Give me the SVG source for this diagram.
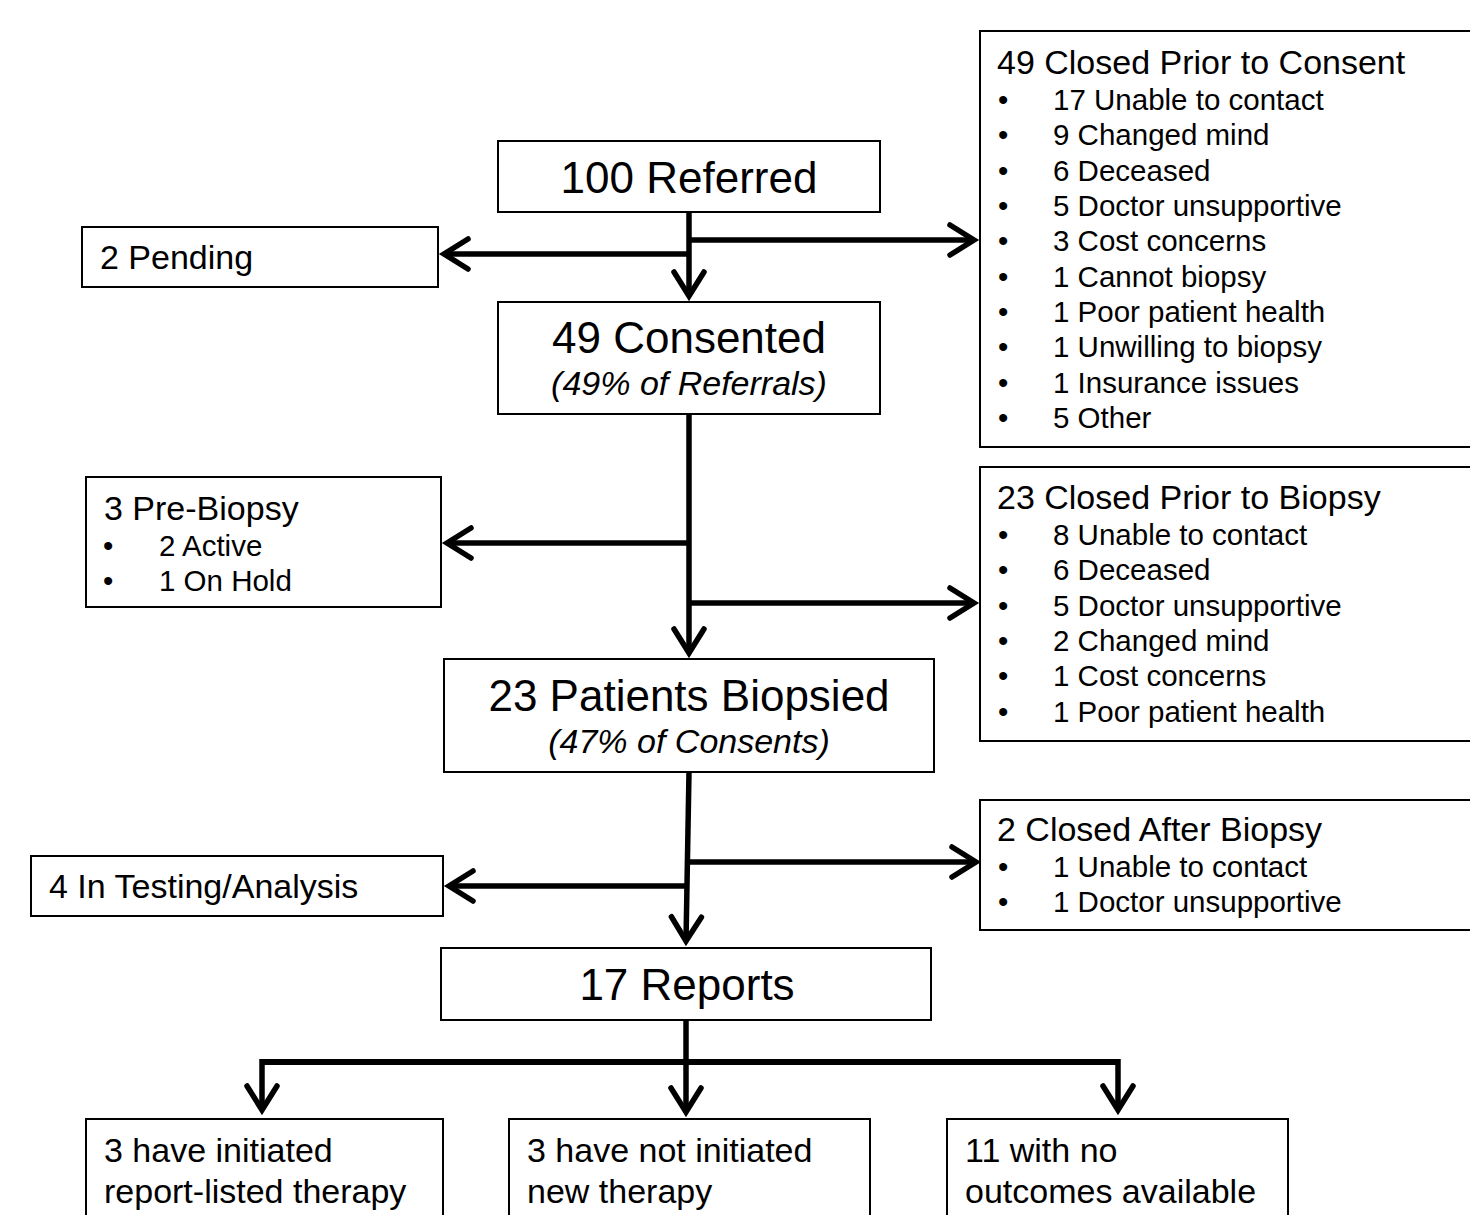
<svg xmlns="http://www.w3.org/2000/svg" width="1470" height="1215" viewBox="0 0 1470 1215">
<style>
.box{fill:#fff;stroke:#000;stroke-width:2}
text{font-family:"Liberation Sans",Arial,sans-serif;fill:#000}
.big{font-size:44px}
.mid{font-size:34px}
.it{font-size:34px;font-style:italic}
.sm{font-size:29.5px}
.c{text-anchor:middle}
.ln{fill:none;stroke:#000;stroke-width:5.5}
</style>
<defs>
<marker id="ah" markerUnits="userSpaceOnUse" markerWidth="40" markerHeight="40" viewBox="-30 -20 34 40" refX="0" refY="0" orient="auto">
<path d="M-24,-15 L0,0 L-24,15" fill="none" stroke="#000" stroke-width="5.5" stroke-linecap="round" stroke-linejoin="miter"/>
</marker>
</defs>
<g id="connectors">
<path class="ln" d="M689,212 V296" marker-end="url(#ah)"/>
<path class="ln" d="M689,254 H444" marker-end="url(#ah)"/>
<path class="ln" d="M689,240 H974" marker-end="url(#ah)"/>
<path class="ln" d="M689,414 V653" marker-end="url(#ah)"/>
<path class="ln" d="M689,543 H447" marker-end="url(#ah)"/>
<path class="ln" d="M689,603 H974" marker-end="url(#ah)"/>
<path class="ln" d="M689,772 L686,941" marker-end="url(#ah)"/>
<path class="ln" d="M687,886 H449" marker-end="url(#ah)"/>
<path class="ln" d="M688,862 H976" marker-end="url(#ah)"/>
<path class="ln" d="M686,1020 V1112" marker-end="url(#ah)"/>
<path class="ln" d="M262,1062 H1118" style="stroke-width:6"/>
<path class="ln" d="M262,1059 V1110" marker-end="url(#ah)"/>
<path class="ln" d="M1118,1059 V1110" marker-end="url(#ah)"/>
</g>
<g id="referred">
<rect class="box" x="498" y="141" width="382" height="71"/>
<text class="big c" x="689" y="193">100 Referred</text>
</g>
<g id="pending">
<rect class="box" x="82" y="227" width="356" height="60"/>
<text class="mid" x="100" y="269">2 Pending</text>
</g>
<g id="closed-consent">
<rect class="box" x="980" y="31" width="500" height="416"/>
<text class="mid" x="997" y="74">49 Closed Prior to Consent</text>
<g class="sm">
<text x="998" y="110">•</text><text x="1053" y="110">17 Unable to contact</text>
<text x="998" y="145">•</text><text x="1053" y="145">9 Changed mind</text>
<text x="998" y="181">•</text><text x="1053" y="181">6 Deceased</text>
<text x="998" y="216">•</text><text x="1053" y="216">5 Doctor unsupportive</text>
<text x="998" y="251">•</text><text x="1053" y="251">3 Cost concerns</text>
<text x="998" y="287">•</text><text x="1053" y="287">1 Cannot biopsy</text>
<text x="998" y="322">•</text><text x="1053" y="322">1 Poor patient health</text>
<text x="998" y="357">•</text><text x="1053" y="357">1 Unwilling to biopsy</text>
<text x="998" y="393">•</text><text x="1053" y="393">1 Insurance issues</text>
<text x="998" y="428">•</text><text x="1053" y="428">5 Other</text>
</g>
</g>
<g id="consented">
<rect class="box" x="498" y="302" width="382" height="112"/>
<text class="big c" x="689" y="353">49 Consented</text>
<text class="it c" x="689" y="395">(49% of Referrals)</text>
</g>
<g id="pre-biopsy">
<rect class="box" x="86" y="477" width="355" height="130"/>
<text class="mid" x="104" y="520">3 Pre-Biopsy</text>
<g class="sm">
<text x="103" y="556">•</text><text x="159" y="556">2 Active</text>
<text x="103" y="591">•</text><text x="159" y="591">1 On Hold</text>
</g>
</g>
<g id="closed-biopsy">
<rect class="box" x="980" y="467" width="500" height="274"/>
<text class="mid" x="997" y="509">23 Closed Prior to Biopsy</text>
<g class="sm">
<text x="998" y="545">•</text><text x="1053" y="545">8 Unable to contact</text>
<text x="998" y="580">•</text><text x="1053" y="580">6 Deceased</text>
<text x="998" y="616">•</text><text x="1053" y="616">5 Doctor unsupportive</text>
<text x="998" y="651">•</text><text x="1053" y="651">2 Changed mind</text>
<text x="998" y="686">•</text><text x="1053" y="686">1 Cost concerns</text>
<text x="998" y="722">•</text><text x="1053" y="722">1 Poor patient health</text>
</g>
</g>
<g id="biopsied">
<rect class="box" x="444" y="659" width="490" height="113"/>
<text class="big c" x="689" y="711">23 Patients Biopsied</text>
<text class="it c" x="689" y="753">(47% of Consents)</text>
</g>
<g id="closed-after">
<rect class="box" x="980" y="800" width="500" height="130"/>
<text class="mid" x="997" y="841">2 Closed After Biopsy</text>
<g class="sm">
<text x="998" y="877">•</text><text x="1053" y="877">1 Unable to contact</text>
<text x="998" y="912">•</text><text x="1053" y="912">1 Doctor unsupportive</text>
</g>
</g>
<g id="testing">
<rect class="box" x="31" y="856" width="412" height="60"/>
<text class="mid" x="49" y="898">4 In Testing/Analysis</text>
</g>
<g id="reports">
<rect class="box" x="441" y="948" width="490" height="72"/>
<text class="big c" x="687" y="1000">17 Reports</text>
</g>
<g id="initiated">
<rect class="box" x="86" y="1119" width="357" height="110"/>
<text class="mid" x="104" y="1162">3 have initiated</text>
<text class="mid" x="104" y="1203">report-listed therapy</text>
</g>
<g id="not-initiated">
<rect class="box" x="509" y="1119" width="361" height="110"/>
<text class="mid" x="527" y="1162">3 have not initiated</text>
<text class="mid" x="527" y="1203">new therapy</text>
</g>
<g id="no-outcomes">
<rect class="box" x="947" y="1119" width="341" height="110"/>
<text class="mid" x="965" y="1162">11 with no</text>
<text class="mid" x="965" y="1203">outcomes available</text>
</g>
</svg>
